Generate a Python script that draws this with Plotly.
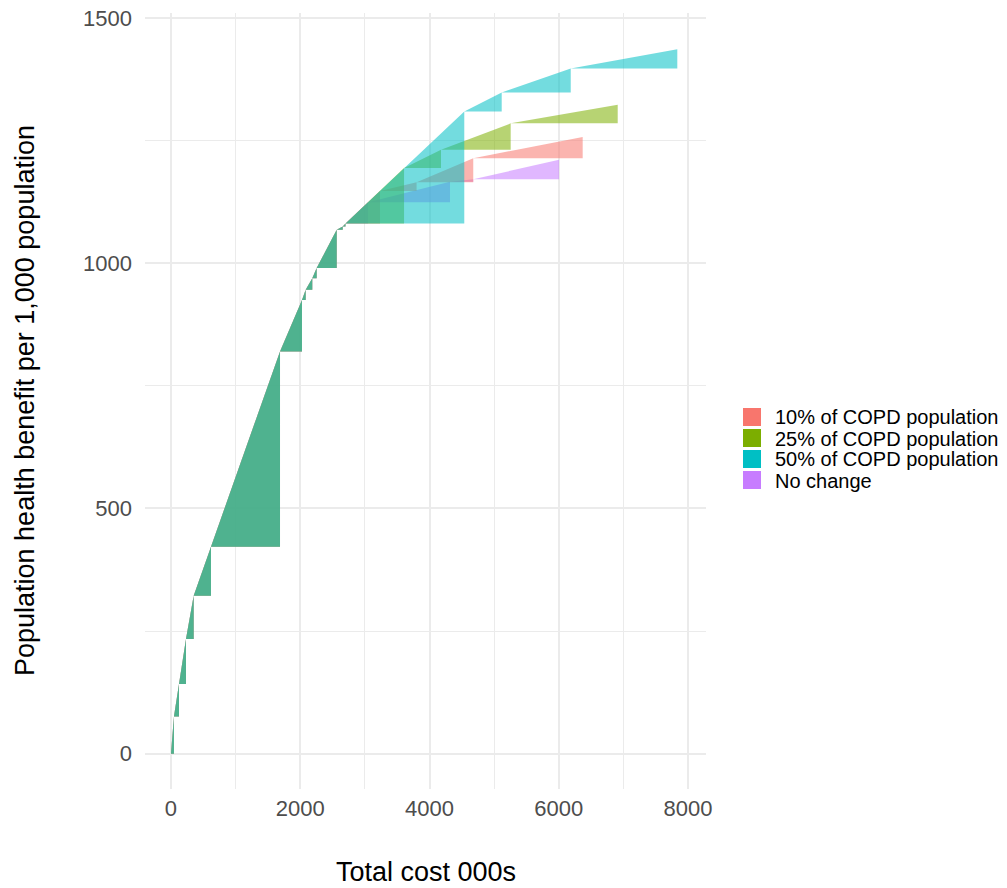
import plotly.graph_objects as go

# ---- data ----
shared_cost = [0, 46, 124, 232, 351, 619, 1687, 2027, 2084, 2186, 2254, 2564, 2657, 2700]
shared_benefit = [0, 76, 142, 234, 322, 422, 820, 925, 946, 969, 990, 1068, 1075, 1081]

nochange_cost = [3048, 4317, 4677, 6004]
nochange_benefit = [1124, 1166, 1171, 1211]

copd10_cost = [3234, 3800, 4677, 6370]
copd10_benefit = [1147, 1165, 1214, 1257]

copd25_cost = [3606, 4178, 5256, 6912]
copd25_benefit = [1194, 1231, 1285, 1323]

copd50_cost = [4538, 5117, 6185, 7834]
copd50_benefit = [1309, 1348, 1397, 1436]

scenario_names = ["10% of COPD population", "25% of COPD population",
                  "50% of COPD population", "No change"]
scenario_colors = ["#F8766D", "#7CAE00", "#00BFC4", "#C77CFF"]
scenario_cost = [copd10_cost, copd25_cost, copd50_cost, nochange_cost]
scenario_benefit = [copd10_benefit, copd25_benefit, copd50_benefit, nochange_benefit]

x_ticks = [0, 2000, 4000, 6000, 8000]
y_ticks = [0, 500, 1000, 1500]

ALPHA = 0.55


def rgba(hex_color, a):
    h = hex_color.lstrip("#")
    r, g, b = int(h[0:2], 16), int(h[2:4], 16), int(h[4:6], 16)
    return f"rgba({r},{g},{b},{a})"


def triangles(xs, ys):
    tx, ty = [], []
    for i in range(len(xs) - 1):
        tx += [xs[i], xs[i + 1], xs[i + 1], xs[i], None]
        ty += [ys[i], ys[i + 1], ys[i], ys[i], None]
    return tx, ty


fig = go.Figure()

# draw order: No change first, then 10%, 25%, 50%
order = [3, 0, 1, 2]
for k in order:
    xs = shared_cost + scenario_cost[k]
    ys = shared_benefit + scenario_benefit[k]
    tx, ty = triangles(xs, ys)
    fig.add_trace(go.Scatter(
        x=tx, y=ty, mode="lines", fill="toself",
        fillcolor=rgba(scenario_colors[k], ALPHA),
        line=dict(width=0, color=rgba(scenario_colors[k], ALPHA)),
        name=scenario_names[k], showlegend=False, hoverinfo="skip",
    ))

W, H = 1007, 888
L, R, T, B = 145, 301, 13, 99
pw, ph = W - L - R, H - T - B

font_family = "Liberation Sans, Arial, sans-serif"

fig.update_layout(
    width=W, height=H,
    margin=dict(l=L, r=R, t=T, b=B, autoexpand=False),
    plot_bgcolor="white", paper_bgcolor="white",
    showlegend=False,
    font=dict(family=font_family),
    xaxis=dict(
        range=[-402, 8278], tickvals=x_ticks, ticktext=[str(v) for v in x_ticks],
        showgrid=True, gridcolor="#EBEBEB", gridwidth=2.4,
        minor=dict(showgrid=True, gridcolor="#EBEBEB", gridwidth=1.2, tickvals=[1000, 3000, 5000, 7000]),
        zeroline=False, showline=False, ticks="",
        tickfont=dict(size=22, color="#4D4D4D", family=font_family),
        ticklabelstandoff=4,
    ),
    yaxis=dict(
        range=[-72, 1510], tickvals=y_ticks, ticktext=[str(v) for v in y_ticks],
        showgrid=True, gridcolor="#EBEBEB", gridwidth=2.4,
        minor=dict(showgrid=True, gridcolor="#EBEBEB", gridwidth=1.2, tickvals=[250, 750, 1250]),
        zeroline=False, showline=False, ticks="",
        tickfont=dict(size=22, color="#4D4D4D", family=font_family),
        ticklabelstandoff=12,
    ),
)

annotations = [
    dict(text="Total cost 000s", xref="paper", yref="paper",
         x=0.5, y=(T + ph - 872) / ph, xanchor="center", yanchor="middle",
         showarrow=False, font=dict(size=27, color="black", family=font_family)),
    dict(text="Population health benefit per 1,000 population", xref="paper", yref="paper",
         x=(25 - L) / pw, y=(T + ph - 401) / ph, xanchor="center", yanchor="middle",
         textangle=-90, showarrow=False,
         font=dict(size=27, color="black", family=font_family)),
]

# manual legend (ggplot style)
shapes = []
key_tops = [408.0, 429.0, 450.0, 471.0]
for i, name in enumerate(scenario_names):
    top = key_tops[i]
    shapes.append(dict(
        type="rect", xref="paper", yref="paper",
        x0=(743 - L) / pw, x1=(761 - L) / pw,
        y0=(T + ph - (top + 18)) / ph, y1=(T + ph - top) / ph,
        fillcolor=scenario_colors[i], line=dict(width=0), layer="above",
    ))
    annotations.append(dict(
        text=name, xref="paper", yref="paper",
        x=(774 - L) / pw, y=(T + ph - (top + 9.5)) / ph,
        xanchor="left", yanchor="middle", showarrow=False,
        borderpad=0,
        font=dict(size=20, color="black", family=font_family),
    ))

fig.update_layout(annotations=annotations, shapes=shapes)

fig.write_html("out.html")
